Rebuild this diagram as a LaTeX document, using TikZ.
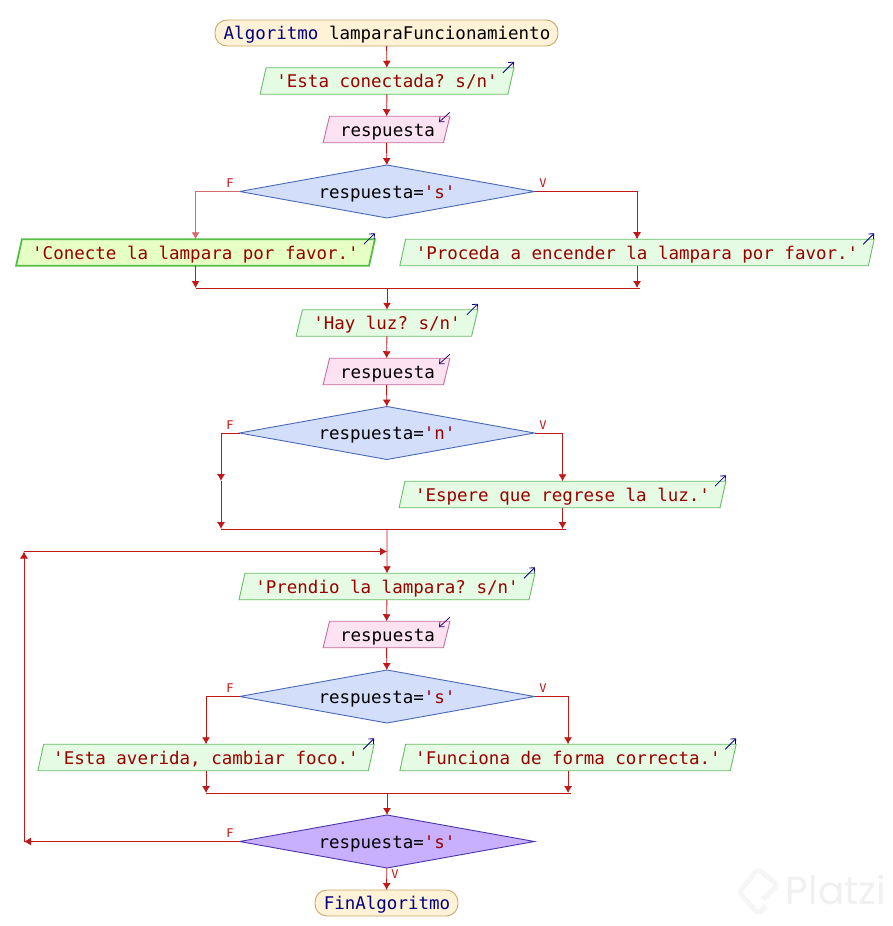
\documentclass[tikz,border=0pt]{standalone}
\usepackage{fontspec}
\setmonofont{DejaVu Sans Mono}
\setsansfont{Poppins}
\usetikzlibrary{arrows.meta,shapes.geometric,calc}
\definecolor{flecha}{HTML}{C01818}
\definecolor{kw}{HTML}{000080}
\definecolor{cadena}{HTML}{990000}
\tikzset{%
   texto/.style={font=\ttfamily\fontsize{17.5}{20}\selectfont, inner sep=0pt, outer sep=0pt, text height=13pt, text depth=0pt},
   inicio/.style={texto, rounded corners=12pt, line width=.9pt, draw=HTML-inicio, fill=HTML-inifill, minimum height=26pt, text=kw},
   para/.style={texto, trapezium, trapezium stretches=true, trapezium left angle=67, trapezium right angle=113, minimum height=26.5pt},
   salida/.style={para, line width=.9pt, draw=HTML-verde, fill=HTML-verdefill, text=cadena},
   elegida/.style={para, draw=HTML-sel, line width=1.8pt, fill=HTML-selfill, text=cadena},
   entrada/.style={para, line width=.9pt, draw=HTML-rosa, fill=HTML-rosafill, text=black},
   decide/.style={texto, diamond, aspect=5.55, inner sep=0pt, line width=.9pt, draw=HTML-azul, fill=HTML-azulfill, minimum width=295pt, minimum height=53pt},
   flujo/.style={draw=flecha, line width=.9pt, -{Latex[length=7pt,width=8pt]}},
   tenue/.style={draw=flecha!65!white, line width=.9pt, -{Latex[length=7pt,width=8pt]}},
   linea/.style={draw=flecha, line width=.9pt, shorten >=-3pt},
   etq/.style={font=\ttfamily\fontsize{12}{14}\selectfont, text=flecha, inner sep=0pt},
   flechita/.style={line width=.8pt, -{Straight Barb[length=4pt,width=7pt]}},
}
\definecolor{HTML-inicio}{HTML}{C8A868}
\definecolor{HTML-inifill}{HTML}{FFF2D6}
\definecolor{HTML-verde}{HTML}{68BC68}
\definecolor{HTML-verdefill}{HTML}{E6FBE4}
\definecolor{HTML-sel}{HTML}{55BE45}
\definecolor{HTML-selfill}{HTML}{E6FFC4}
\definecolor{HTML-rosa}{HTML}{C46C9C}
\definecolor{HTML-rosafill}{HTML}{FDE2F2}
\definecolor{HTML-azul}{HTML}{4A68B4}
\definecolor{HTML-azulfill}{HTML}{D2DEFA}
\definecolor{HTML-lila}{HTML}{C8B0FF}
\definecolor{HTML-lilaborde}{HTML}{4A34A8}
% flechas chicas de las esquinas
\newcommand\esc[1]{%
  \draw[flechita, draw=kw] ([shift={(-11,5)}]#1.top right corner) -- ([shift={(0,-6)}]#1.top right corner);%
}
\newcommand\lee[1]{%
  \draw[flechita, draw=kw!70!purple] ([shift={(0,-4)}]#1.top right corner) -- ([shift={(-11,6)}]#1.top right corner);%
}
\begin{document}
\begin{tikzpicture}[x=1pt, y=-1pt]
      \useasboundingbox (0,0) rectangle (893,926);
      % marca de agua
      \node[font=\sffamily\fontsize{39}{40}\selectfont, text=black!6, inner sep=0pt] (marca) at (836,890) {Platzi};
      \draw[line width=5pt, green!25!yellow!8!black!4, line join=round, rounded corners=4pt] (766,906) -- (758,914) -- (739,892) -- (758,869) -- (778,885) -- (763,899);

      \node[inicio, minimum width=343pt] (ini) at (386.5,33) {\hspace{1pt}Algoritmo \textcolor{black}{lamparaFuncionamiento}};
      \node[salida, minimum width=254pt] (p1) at (387,81) {'Esta conectada? s/n'};
      \node[entrada, minimum width=127pt] (r1) at (386.5,129.5) {\hspace{2pt}respuesta};
      \node[decide] (d1) at (387,191.5) {respuesta=\textcolor{cadena}{'s'}};
      \node[elegida, minimum width=359pt] (p2) at (195.5,252.5) {'Conecte la lampara por favor.'};
      \node[salida, minimum width=476pt] (p3) at (637,252.5) {'Proceda a encender la lampara por favor.'};
      \coordinate (j1) at (387,288);
      \node[salida, minimum width=182pt] (p4) at (387,323) {'Hay luz? s/n'};
      \node[entrada, minimum width=127pt] (r2) at (386.5,371.5) {\hspace{2pt}respuesta};
      \node[decide] (d2) at (387,433) {respuesta=\textcolor{cadena}{'n'}};
      \coordinate (v2) at (221,481);
      \node[salida, minimum width=327pt] (p5) at (562.5,494.5) {'Espere que regrese la luz.'};
      \coordinate (j2) at (387,529);
      \coordinate (m1) at (387,551.5);
      \node[salida, minimum width=297pt] (p6) at (387,586.5) {'Prendio la lampara? s/n'};
      \node[entrada, minimum width=127pt] (r3) at (386.5,634.5) {\hspace{2pt}respuesta};
      \node[decide] (d3) at (387,696.5) {respuesta=\textcolor{cadena}{'s'}};
      \node[salida, minimum width=338pt] (p7) at (206,757.5) {'Esta averida, cambiar foco.'};
      \node[salida, minimum width=338pt] (p8) at (568,757.5) {'Funciona de forma correcta.'};
      \coordinate (j3) at (387,793);
      \node[decide, fill=HTML-lila, draw=HTML-lilaborde] (d4) at (387,841.5) {respuesta=\textcolor{cadena}{'s'}};
      \node[inicio, minimum width=143pt] (fin) at (386.5,903) {\hspace{1pt}FinAlgoritmo};
      \coordinate (c1) at (24,841.5);
      \coordinate (c2) at (24,551.5);

      \path[flujo] (ini) -- (p1);
      \path[flujo] (p1) -- (r1);
      \path[flujo] (r1) -- (d1);
      \path[tenue] (d1.west) -| (p2.north);
      \path[flujo] (d1.east) -| (p3.north);
      \path[flujo] (p2.south) -- (p2.south |- j1);
      \path[flujo] (p3.south) -- (p3.south |- j1);
      \path[linea] (p2.south |- j1) -- (p3.south |- j1);
      \path[flujo] (j1) -- (p4);
      \path[flujo] (p4) -- (r2);
      \path[flujo] (r2) -- (d2);
      \path[flujo] (d2.west) -| (v2);
      \path[flujo] (d2.east) -| (p5.north);
      \path[flujo] (v2) -- (v2 |- j2);
      \path[flujo] (p5.south) -- (p5.south |- j2);
      \path[linea] (v2 |- j2) -- (p5.south |- j2);
      \path[flujo] (j2) -- (p6);
      \path[flujo] (p6) -- (r3);
      \path[flujo] (r3) -- (d3);
      \path[flujo] (d3.west) -| (p7.north);
      \path[flujo] (d3.east) -| (p8.north);
      \path[flujo] (p7.south) -- (p7.south |- j3);
      \path[flujo] (p8.south) -- (p8.south |- j3);
      \path[linea] (p7.south |- j3) -- (p8.south |- j3);
      \path[flujo] (j3) -- (d4);
      \path[flujo] (d4) -- (fin);
      \path[flujo] (d4.west) -- (c1);
      \path[flujo] (c1) -- (c2);
      \path[flujo] (c2) -- (m1);

      \esc{p1} \esc{p2} \esc{p3} \esc{p4} \esc{p5} \esc{p6} \esc{p7} \esc{p8}
      \lee{r1} \lee{r2} \lee{r3}

      \node[etq] (f1) at (230,183) {F};
      \node[etq] (t1) at (543,183) {V};
      \node[etq] (f2) at (230,425) {F};
      \node[etq] (t2) at (543,425) {V};
      \node[etq] (f3) at (230,688) {F};
      \node[etq] (t3) at (543,688) {V};
      \node[etq] (f4) at (230,833) {F};
      \node[etq] (t4) at (395,874) {V};
   \end{tikzpicture}
\end{document}
